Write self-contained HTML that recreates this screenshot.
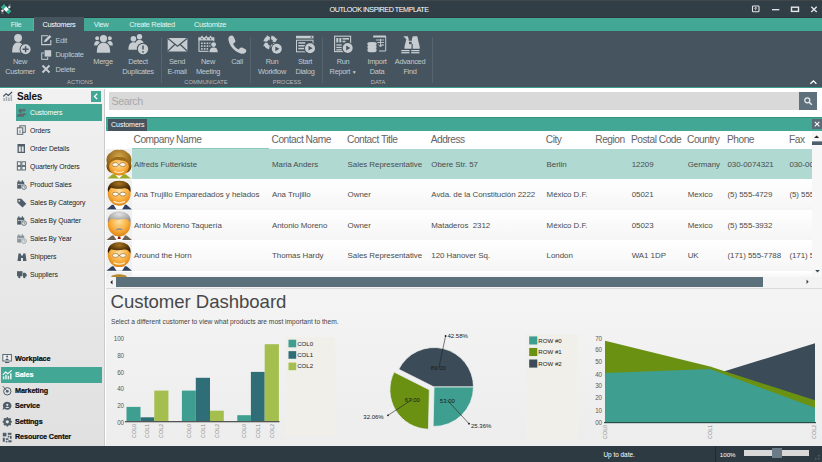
<!DOCTYPE html>
<html><head><meta charset="utf-8">
<style>
*{box-sizing:border-box;margin:0;padding:0}
html,body{width:822px;height:462px;overflow:hidden;background:#fff;font-family:"Liberation Sans",sans-serif;}
.abs{position:absolute}
svg{position:absolute;overflow:visible}
#title{left:0;top:0;width:822px;height:18px;background:#323e46;border-top:1px solid #40474a;border-bottom:1px solid #2b353c}
#title .t{left:329.500px;top:3px;color:#fff;font-size:7.2px;line-height:11px;letter-spacing:-0.45px;white-space:nowrap}
#tabs{left:0;top:18px;width:822px;height:13px;background:#42a895}
#tabs span{position:absolute;top:0;height:13px;line-height:14px;font-size:7.4px;letter-spacing:-0.3px;color:#e6f4f1;text-align:center}
#tabs .sel{background:#45545e;color:#fff;top:-1px;height:14px;line-height:16px}
#ribbon{left:0;top:31px;width:822px;height:57px;background:#45545e;border-bottom:1px solid #3b9d8c}
.rl{position:absolute;font-size:7.400px;line-height:10px;letter-spacing:-0.300px;color:#c2cacf;text-align:center;white-space:nowrap;transform:translateX(-50%)}
.rs{position:absolute;font-size:7.400px;line-height:10px;letter-spacing:-0.300px;color:#c2cacf;white-space:nowrap}
.rg{position:absolute;font-size:5.8px;line-height:8px;color:#b4bcc1;text-align:center;white-space:nowrap;transform:translateX(-50%);top:47px}
.sep{position:absolute;width:1px;top:6px;height:46px;background:#56646d}
#nav{left:0;top:89px;width:105px;height:357px;background:linear-gradient(#f1f1f1,#e0e0e0);border-right:1px solid #cbcbcb}
.ni{position:absolute;left:30px;font-size:6.9px;line-height:10px;letter-spacing:-0.1px;color:#222;white-space:nowrap}
.ng{position:absolute;left:15px;font-size:7.200px;line-height:10px;color:#0a0a0a;font-weight:bold;-webkit-text-stroke:0.200px;white-space:nowrap;letter-spacing:-0.1px}
#status{left:0;top:445.500px;width:822px;height:16.500px;background:#2d3a42}
.gh{position:absolute;top:133.800px;font-size:10.200px;line-height:12px;letter-spacing:-0.480px;color:#646464;white-space:nowrap}
.gd{position:absolute;font-size:7.950px;line-height:10px;color:#4c4c4c;white-space:nowrap;letter-spacing:-0.05px}
.row{position:absolute;left:132px;width:680px;height:30px;background:linear-gradient(#fff,#f5f5f5)}
.av{position:absolute;left:106px;width:26px;height:30px;background:#f0f0f0;overflow:hidden}
.cl{position:absolute;font-size:6.300px;line-height:7px;color:#5a5a5a;letter-spacing:-0.100px}
.xl{position:absolute;font-size:5.2px;line-height:6px;color:#888;transform:rotate(-90deg);transform-origin:0 0;white-space:nowrap;letter-spacing:0.2px}
.lg{position:absolute;font-size:6.100px;line-height:8px;color:#222;white-space:nowrap}
.pl{position:absolute;font-size:6px;line-height:8px;color:#1a1a1a;white-space:nowrap}
</style></head><body>
<div id="title" class="abs"><div class="t abs">OUTLOOK INSPIRED TEMPLATE</div></div>
<div id="tabs" class="abs">
<span style="left:0;width:34px;background:#44a996;border-right:1px solid #52b7a4;padding-right:1px">File</span>
<span class="sel" style="left:34px;width:50px">Customers</span>
<span style="left:84px;width:34px">View</span>
<span style="left:122px;width:60px">Create Related</span>
<span style="left:186px;width:48px">Customize</span>
</div>
<div id="ribbon" class="abs">
<div class="rl" style="left:20px;top:26px">New<br>Customer</div>
<div class="rs" style="left:55.500px;top:4.800px">Edit</div>
<div class="rs" style="left:55.500px;top:19px">Duplicate</div>
<div class="rs" style="left:55.500px;top:33.500px">Delete</div>
<div class="rl" style="left:103px;top:26px">Merge</div>
<div class="rl" style="left:138px;top:26px">Detect<br>Duplicates</div>
<div class="rg" style="left:80px">ACTIONS</div>
<div class="sep" style="left:161px"></div>
<div class="rl" style="left:177px;top:26px">Send<br>E-mail</div>
<div class="rl" style="left:208px;top:26px">New<br>Meeting</div>
<div class="rl" style="left:237px;top:26px">Call</div>
<div class="rg" style="left:206px">COMMUNICATE</div>
<div class="sep" style="left:250px"></div>
<div class="rl" style="left:272px;top:26px">Run<br>Workflow</div>
<div class="rl" style="left:305px;top:26px">Start<br>Dialog</div>
<div class="rg" style="left:287px">PROCESS</div>
<div class="sep" style="left:322px"></div>
<div class="rl" style="left:343px;top:26px">Run<br>Report <span style="font-size:5px">&#9660;</span></div>
<div class="rl" style="left:377px;top:26px">Import<br>Data</div>
<div class="rl" style="left:410px;top:26px">Advanced<br>Find</div>
<div class="rg" style="left:378px">DATA</div>
<div class="sep" style="left:432px"></div>
</div>

<!-- NAV -->
<div id="nav" class="abs">
<div class="abs" style="left:17px;top:1px;font-size:10px;font-weight:bold;line-height:13px;color:#111;letter-spacing:-0.2px">Sales</div>
<div class="abs" style="left:90.500px;top:2px;width:10.500px;height:10.500px;background:#42a895"></div>
<div class="abs" style="left:16px;top:15px;width:86px;height:17px;background:#42a895"></div>
<div class="ni" style="top:19px;color:#fff">Customers</div>
<div class="ni" style="top:37px">Orders</div>
<div class="ni" style="top:55px">Order Details</div>
<div class="ni" style="top:73px">Quarterly Orders</div>
<div class="ni" style="top:91px">Product Sales</div>
<div class="ni" style="top:109px">Sales By Category</div>
<div class="ni" style="top:127px">Sales By Quarter</div>
<div class="ni" style="top:145px">Sales By Year</div>
<div class="ni" style="top:163px">Shippers</div>
<div class="ni" style="top:181px">Suppliers</div>
<div class="abs" style="left:1px;top:278px;width:101px;height:16px;background:#42a895"></div>
<div class="ng" style="top:265px">Workplace</div>
<div class="ng" style="top:281px;color:#fff">Sales</div>
<div class="ng" style="top:297px">Marketing</div>
<div class="ng" style="top:312px">Service</div>
<div class="ng" style="top:328px">Settings</div>
<div class="ng" style="top:343px">Resource Center</div>
</div>

<!-- SEARCH -->
<div class="abs" style="left:109px;top:92px;width:690px;height:18px;background:#d9d9d9"></div>
<div class="abs" style="left:111.500px;top:95.400px;font-size:10.600px;line-height:12px;letter-spacing:-0.400px;color:#a8a8a8">Search</div>
<div class="abs" style="left:799px;top:92px;width:18px;height:18px;background:#5f707d"></div>

<!-- GRID -->
<div class="abs" style="left:106px;top:117px;width:716px;height:13.5px;background:#42a895;border-top:1px solid #37917f"></div>
<div class="abs" style="left:107.800px;top:119px;width:39.400px;height:11.500px;background:#44535d;color:#fff;font-size:7.100px;line-height:12px;text-align:center;padding-left:0.600px;letter-spacing:-0.1px">Customers</div>
<div class="abs" style="left:812px;top:119px;width:10px;height:10px;background:#5a6b77"></div>
<div class="gh" style="left:133.5px">Company Name</div>
<div class="gh" style="left:271.5px">Contact Name</div>
<div class="gh" style="left:347px">Contact Title</div>
<div class="gh" style="left:430.7px">Address</div>
<div class="gh" style="left:545.8px">City</div>
<div class="gh" style="left:595.3px">Region</div>
<div class="gh" style="left:631px">Postal Code</div>
<div class="gh" style="left:687px">Country</div>
<div class="gh" style="left:727px">Phone</div>
<div class="gh" style="left:789px">Fax</div>
<div class="abs" style="left:132px;top:148px;width:137px;height:1px;background:#8fcabf"></div>

<div class="row" style="top:149px;background:#b0d9d2"></div>
<div class="row" style="top:179.7px"></div>
<div class="row" style="top:210.3px"></div>
<div class="row" style="top:241px"></div>
<div class="row" style="top:271.5px;height:6px"></div>
<div class="av" style="top:149px"></div>
<div class="av" style="top:179.7px"></div>
<div class="av" style="top:210.3px"></div>
<div class="av" style="top:241px"></div>
<div class="av" style="top:271.5px;height:6px"></div>

<div class="abs" id="gdata" style="left:0;top:0;width:812px;height:277px;overflow:hidden">
<div class="gd" style="left:134px;top:159.5px">Alfreds Futterkiste</div>
<div class="gd" style="left:272px;top:159.5px">Maria Anders</div>
<div class="gd" style="left:347.6px;top:159.5px">Sales Representative</div>
<div class="gd" style="left:431.3px;top:159.5px">Obere Str. 57</div>
<div class="gd" style="left:546.6px;top:159.5px">Berlin</div>
<div class="gd" style="left:631.7px;top:159.5px">12209</div>
<div class="gd" style="left:687.7px;top:159.5px">Germany</div>
<div class="gd" style="left:727.5px;top:159.5px">030-0074321</div>
<div class="gd" style="left:789.4px;top:159.5px">030-0076545</div>

<div class="gd" style="left:134px;top:190.2px">Ana Trujillo Emparedados y helados</div>
<div class="gd" style="left:272px;top:190.2px">Ana Trujillo</div>
<div class="gd" style="left:347.6px;top:190.2px">Owner</div>
<div class="gd" style="left:431.3px;top:190.2px">Avda. de la Constitución 2222</div>
<div class="gd" style="left:546.6px;top:190.2px">México D.F.</div>
<div class="gd" style="left:631.7px;top:190.2px">05021</div>
<div class="gd" style="left:687.7px;top:190.2px">Mexico</div>
<div class="gd" style="left:727.5px;top:190.2px">(5) 555-4729</div>
<div class="gd" style="left:789.4px;top:190.2px">(5) 555-3745</div>

<div class="gd" style="left:134px;top:220.8px">Antonio Moreno Taquería</div>
<div class="gd" style="left:272px;top:220.8px">Antonio Moreno</div>
<div class="gd" style="left:347.6px;top:220.8px">Owner</div>
<div class="gd" style="left:431.3px;top:220.8px">Mataderos&nbsp; 2312</div>
<div class="gd" style="left:546.6px;top:220.8px">México D.F.</div>
<div class="gd" style="left:631.7px;top:220.8px">05023</div>
<div class="gd" style="left:687.7px;top:220.8px">Mexico</div>
<div class="gd" style="left:727.5px;top:220.8px">(5) 555-3932</div>

<div class="gd" style="left:134px;top:251.4px">Around the Horn</div>
<div class="gd" style="left:272px;top:251.4px">Thomas Hardy</div>
<div class="gd" style="left:347.6px;top:251.4px">Sales Representative</div>
<div class="gd" style="left:431.3px;top:251.4px">120 Hanover Sq.</div>
<div class="gd" style="left:546.6px;top:251.4px">London</div>
<div class="gd" style="left:631.7px;top:251.4px">WA1 1DP</div>
<div class="gd" style="left:687.7px;top:251.4px">UK</div>
<div class="gd" style="left:727.5px;top:251.4px">(171) 555-7788</div>
<div class="gd" style="left:789.4px;top:251.4px">(171) 555-6750</div>
</div>
<!-- scrollbars -->
<div class="abs" style="left:106px;top:277px;width:716px;height:10.500px;background:#f3f3f3"></div>
<div class="abs" style="left:812px;top:131px;width:10px;height:146px;background:#f7f7f7"></div>

<div class="abs" style="left:116px;top:277px;width:647px;height:9.800px;background:#5c707c"></div>
<div class="abs" style="left:812px;top:141px;width:10px;height:4.300px;background:linear-gradient(#8a98a2 0,#8a98a2 25%,#4e5f6b 25%)"></div>

<!-- DASHBOARD -->
<div class="abs" style="left:106px;top:287.600px;width:716px;height:158.400px;background:linear-gradient(#f4f4f4,#ededed);border-top:1px solid #dadada"></div>
<div class="abs" style="left:110.5px;top:291px;font-size:18.600px;line-height:22px;color:#484848;letter-spacing:-0.05px;white-space:nowrap">Customer Dashboard</div>
<div class="abs" style="left:111px;top:318px;font-size:6.65px;line-height:8px;color:#444;white-space:nowrap">Select a different customer to view what products are most important to them.</div>

<!-- CHARTS -->
<svg width="822" height="462" style="left:0;top:0">
<rect x="285.8" y="337" width="49.5" height="99.5" fill="#f1efea"/>
<rect x="526.2" y="334" width="51.5" height="105.5" fill="#f1efea"/>
<rect x="126.5" y="406.9" width="14.0" height="14.6" fill="#3e9e8f"/>
<rect x="140.5" y="417.3" width="13.8" height="4.2" fill="#2f6e77"/>
<rect x="154.3" y="390.6" width="14.1" height="30.9" fill="#a4bf4d"/>
<rect x="181.9" y="390.6" width="13.9" height="30.9" fill="#3e9e8f"/>
<rect x="195.8" y="377.8" width="14.2" height="43.7" fill="#2f6e77"/>
<rect x="210" y="410.7" width="13.8" height="10.8" fill="#a4bf4d"/>
<rect x="237.3" y="415.2" width="13.6" height="6.3" fill="#3e9e8f"/>
<rect x="250.9" y="371.9" width="13.8" height="49.6" fill="#2f6e77"/>
<rect x="264.7" y="344.2" width="14.2" height="77.3" fill="#a4bf4d"/>
<rect x="125" y="421" width="154.5" height="1.3" fill="#555"/>
<rect x="288.5" y="339.70" width="7.7" height="7.6" fill="#3e9e8f"/>
<rect x="288.5" y="351.15" width="7.7" height="7.6" fill="#2f6e77"/>
<rect x="288.5" y="362.60" width="7.7" height="7.6" fill="#a4bf4d"/>
<rect x="529.2" y="336.40" width="8.1" height="8.1" fill="#3e9e8f"/>
<rect x="529.2" y="347.95" width="8.1" height="8.1" fill="#6b9113"/>
<rect x="529.2" y="359.50" width="8.1" height="8.1" fill="#3b4b57"/>
<path d="M434.00,387.00 L473.50,387.00 A39.5,39.5 0 0 0 398.71,369.25 Z" fill="#3b4b57" stroke="#eef1f0" stroke-width="0.8"/>
<path d="M434.00,387.00 L433.10,426.49 A39.5,39.5 0 0 0 473.50,387.00 Z" fill="#3e9e8f" stroke="#eef1f0" stroke-width="0.8"/>
<path d="M429.37,389.78 L394.08,372.03 A39.5,39.5 0 0 0 428.48,429.27 Z" fill="#6b9113" stroke="#eef1f0" stroke-width="0.8"/>
<g stroke="#222" stroke-width="0.6" fill="none"><path d="M438.8,368 L445.6,336"/><path d="M412.5,399.3 L388,415.3"/><path d="M447.5,400.4 L469,423.7"/></g>
<g fill="#111"><circle cx="445.6" cy="336" r="0.9"/><circle cx="388" cy="415.3" r="0.9"/><circle cx="469" cy="423.7" r="0.9"/></g>
<path d="M605,422.5 L605,386.2 L710,375.673 L815,343.366 L815,422.5 Z" fill="#3b4b57"/>
<path d="M605,422.5 L605,340.825 L710,366.477 L815,400.35699999999997 L815,422.5 Z" fill="#6b9113"/>
<path d="M605,422.5 L605,372.89 L710,369.01800000000003 L815,407.738 L815,422.5 Z" fill="#3e9e8f"/>
<rect x="604" y="422" width="212" height="1.2" fill="#2a4a48"/>
</svg>
<div class="cl" style="left:104px;width:20px;text-align:right;top:334.7px">100</div>
<div class="cl" style="left:104px;width:20px;text-align:right;top:351.7px">80</div>
<div class="cl" style="left:104px;width:20px;text-align:right;top:368.7px">60</div>
<div class="cl" style="left:104px;width:20px;text-align:right;top:385.3px">40</div>
<div class="cl" style="left:104px;width:20px;text-align:right;top:401.9px">20</div>
<div class="cl" style="left:104px;width:20px;text-align:right;top:418.6px">00</div>
<div class="cl" style="left:582px;width:20px;text-align:right;top:334.5px">70</div>
<div class="cl" style="left:582px;width:20px;text-align:right;top:346.2px">60</div>
<div class="cl" style="left:582px;width:20px;text-align:right;top:358.3px">50</div>
<div class="cl" style="left:582px;width:20px;text-align:right;top:370.5px">40</div>
<div class="cl" style="left:582px;width:20px;text-align:right;top:382.2px">30</div>
<div class="cl" style="left:582px;width:20px;text-align:right;top:394.3px">20</div>
<div class="cl" style="left:582px;width:20px;text-align:right;top:406.5px">10</div>
<div class="cl" style="left:582px;width:20px;text-align:right;top:419.1px">00</div>
<div class="xl" style="left:130.5px;top:437.5px">COL0</div>
<div class="xl" style="left:144.4px;top:437.5px">COL1</div>
<div class="xl" style="left:158.4px;top:437.5px">COL2</div>
<div class="xl" style="left:185.9px;top:437.5px">COL0</div>
<div class="xl" style="left:199.9px;top:437.5px">COL1</div>
<div class="xl" style="left:213.9px;top:437.5px">COL2</div>
<div class="xl" style="left:241.1px;top:437.5px">COL0</div>
<div class="xl" style="left:254.8px;top:437.5px">COL1</div>
<div class="xl" style="left:268.8px;top:437.5px">COL2</div>
<div class="xl" style="left:602.0px;top:438.5px">COL0</div>
<div class="xl" style="left:707.0px;top:438.5px">COL1</div>
<div class="xl" style="left:811.0px;top:438.5px">COL2</div>
<div class="lg" style="left:297.2px;top:339.5px">COL0</div>
<div class="lg" style="left:297.2px;top:350.9px">COL1</div>
<div class="lg" style="left:297.2px;top:362.4px">COL2</div>
<div class="lg" style="left:538.3px;top:336.5px">ROW #0</div>
<div class="lg" style="left:538.3px;top:348.1px">ROW #1</div>
<div class="lg" style="left:538.3px;top:359.6px">ROW #2</div>
<div class="pl" style="left:447.500px;top:332px">42.58%</div>
<div class="pl" style="left:363.300px;top:412.500px">32.06%</div>
<div class="pl" style="left:471px;top:421.500px">25.36%</div>
<div class="pl" style="left:430.800px;top:364.300px;font-size:6px">89.00</div>
<div class="pl" style="left:404.800px;top:395.600px;font-size:6px">67.00</div>
<div class="pl" style="left:439.800px;top:396.600px;font-size:6px">53.00</div>
<div id="status" class="abs">
<div class="abs" style="left:603.5px;top:5.300px;font-size:6.400px;line-height:8px;color:#fff;white-space:nowrap">Up to date.</div>
<div class="abs" style="left:715px;top:0;width:1px;height:16px;background:#1f2a30"></div>
<div class="abs" style="left:719.8px;top:5.300px;font-size:6.200px;line-height:8px;color:#fff;white-space:nowrap">100%</div>
<div class="abs" style="left:744px;top:4.5px;width:65px;height:6px;background:#d8d8d8"></div>
<div class="abs" style="left:771.500px;top:2.800px;width:10px;height:10.100px;background:#6a7b87"></div>
</div>
<!-- ICONS2 -->
<svg width="822" height="462" style="left:0;top:0">
<defs><radialGradient id="face" cx="50%" cy="40%" r="60%"><stop offset="0" stop-color="#ffe0a0"/><stop offset="0.6" stop-color="#fbb040"/><stop offset="1" stop-color="#dd8412"/></radialGradient><radialGradient id="hb" cx="50%" cy="30%" r="70%"><stop offset="0" stop-color="#d3a548"/><stop offset="1" stop-color="#7a4d08"/></radialGradient><radialGradient id="hd" cx="50%" cy="25%" r="70%"><stop offset="0" stop-color="#a87420"/><stop offset="0.6" stop-color="#5a380a"/><stop offset="1" stop-color="#2e1a04"/></radialGradient><radialGradient id="hg" cx="50%" cy="25%" r="70%"><stop offset="0" stop-color="#e4e4e4"/><stop offset="1" stop-color="#8d8d8d"/></radialGradient></defs>
<g><path d="M107.500,178.60000000000002 L112.500,174.3 L125.500,174.3 L131,178.60000000000002Z" fill="#9aaa28"/><path d="M114.500,174.3 L119,178.60000000000002 L123.500,174.3Z" fill="#fff"/><path d="M119,149.9 C115,149.10000000000002 112,150.8 110.500,152.8 C107,154.3 105.800,159.3 107,163.3 C105.500,167.3 107.500,171.8 111.500,172.8 L126.500,172.8 C130.500,171.8 132.500,167.3 131,163.3 C132.200,159.3 131,154.3 127.500,152.8 C126,150.8 123,149.10000000000002 119,149.9Z" fill="url(#hb)"/><ellipse cx="119" cy="166.60000000000002" rx="10" ry="8.900" fill="url(#face)"/><path d="M108.800,164.8 C109.500,158.3 116,155.8 121,157.3 C125,157.3 128.500,159.8 129.200,164.8 C127,161.3 124,160.3 121,160.5 C117,158.8 111.500,160.3 108.800,164.8Z" fill="#9a6a18"/><ellipse cx="115.3" cy="164.60000000000002" rx="3.100" ry="1.900" fill="#fff8e8" stroke="#6a4a20" stroke-width="0.500"/><ellipse cx="122.7" cy="164.60000000000002" rx="3.100" ry="1.900" fill="#fff8e8" stroke="#6a4a20" stroke-width="0.500"/><path d="M118.4,164.60000000000002 h1.200" stroke="#6a4a20" stroke-width="0.500"/><path d="M114,171.3 Q119,174.10000000000002 124,171.3" stroke="#fff2d0" stroke-width="1.300" fill="none" opacity="0.850"/></g>
<g><path d="M106.500,209.4 L112,204.8 L126.500,204.8 L132,209.4Z" fill="#2f4060"/><path d="M113.500,204.8 L116.500,209.4 L122,209.4 L125,204.8Z" fill="#fff"/><ellipse cx="119.2" cy="193.4" rx="11.400" ry="12.300" fill="url(#face)"/><path d="M108,192.3 C106.500,183.8 113,180.8 119.2,180.8 C125.500,180.8 132,183.8 130.400,192.3 C129,188.3 126,187.8 123,188.4 C119,189.3 114,188.8 111.500,187.8 C110,188.8 109,189.8 108,192.3Z" fill="url(#hd)"/><ellipse cx="115.5" cy="194.10000000000002" rx="3.100" ry="1.900" fill="#fff8e8" stroke="#6a4a20" stroke-width="0.500"/><ellipse cx="122.9" cy="194.10000000000002" rx="3.100" ry="1.900" fill="#fff8e8" stroke="#6a4a20" stroke-width="0.500"/><path d="M118.60000000000001,194.10000000000002 h1.200" stroke="#6a4a20" stroke-width="0.500"/><path d="M113.500,201.3 Q119.200,204.3 125,201.3" stroke="#fff2d0" stroke-width="1.300" fill="none" opacity="0.850"/></g>
<g><path d="M106.500,240.1 L112,235.5 L126.500,235.5 L132,240.1Z" fill="#6d6256"/><path d="M113.500,235.5 L116.500,240.1 L122,240.1 L125,235.5Z" fill="#fff"/><ellipse cx="119.2" cy="224.1" rx="11.400" ry="12.300" fill="url(#face)"/><path d="M108,223.0 C106.500,214.5 113,211.5 119.2,211.5 C125.500,211.5 132,214.5 130.400,223.0 C129,219.0 126,218.5 123,219.1 C119,220.0 114,219.5 111.500,218.5 C110,219.5 109,220.5 108,223.0Z" fill="url(#hg)"/><path d="M116.200,229.8 Q119.200,228.1 122.200,229.8" stroke="#8b93a0" stroke-width="1.400" fill="none"/><path d="M118.200,236.5 h2 l0.600,2.500 h-3.200z" fill="#8a1d10"/></g>
<g><path d="M106.500,270.8 L112,266.2 L126.500,266.2 L132,270.8Z" fill="#2f4060"/><path d="M113.500,266.2 L116.500,270.8 L122,270.8 L125,266.2Z" fill="#fff"/><ellipse cx="119.2" cy="254.79999999999998" rx="11.400" ry="12.300" fill="url(#face)"/><path d="M108,253.7 C106.500,245.2 113,242.2 119.2,242.2 C125.500,242.2 132,245.2 130.400,253.7 C129,249.7 126,249.2 123,249.79999999999998 C119,250.7 114,250.2 111.500,249.2 C110,250.2 109,251.2 108,253.7Z" fill="url(#hd)"/><ellipse cx="115.5" cy="255.5" rx="3.100" ry="1.900" fill="#fff8e8" stroke="#6a4a20" stroke-width="0.500"/><ellipse cx="122.9" cy="255.5" rx="3.100" ry="1.900" fill="#fff8e8" stroke="#6a4a20" stroke-width="0.500"/><path d="M118.60000000000001,255.5 h1.200" stroke="#6a4a20" stroke-width="0.500"/><path d="M113.500,262.7 Q119.200,265.7 125,262.7" stroke="#fff2d0" stroke-width="1.300" fill="none" opacity="0.850"/></g>
<path d="M111,277 C112,273.300 126,273.300 127,277Z" fill="#b88a30"/>
<rect x="106" y="179.2" width="26" height="0.800" fill="#fbfbfb"/><rect x="106" y="209.8" width="26" height="0.800" fill="#fbfbfb"/><rect x="106" y="240.4" width="26" height="0.800" fill="#fbfbfb"/><rect x="106" y="271" width="26" height="0.800" fill="#fbfbfb"/>
<g><rect x="3.3" y="98" width="1.600" height="3" fill="#a8b0b5"/><rect x="5.699999999999999" y="96.5" width="1.600" height="4.500" fill="#a8b0b5"/><rect x="8.1" y="97.5" width="1.600" height="3.500" fill="#a8b0b5"/><rect x="10.5" y="95" width="1.600" height="6" fill="#a8b0b5"/><path d="M3.3,96.5 l2.800,-2.800 2.200,1.800 3.800,-3.500" fill="none" stroke="#3f4c55" stroke-width="1.100"/></g>
<circle cx="24" cy="110" r="1.500" fill="#5d6873"/><path d="M21.500,115 q2.500,-4 5,0z" fill="#5d6873"/><circle cx="20.500" cy="110.800" r="2.100" fill="#5d6873"/><path d="M16.800,116.800 c0,-4.500 7.400,-4.500 7.400,0z" fill="#5d6873"/>
<rect x="19.800" y="125.800" width="5.500" height="6.500" fill="#e9e9e9" stroke="#4f5e69" stroke-width="0.900"/><rect x="17.300" y="127.800" width="5.500" height="6.500" fill="#e9e9e9" stroke="#4f5e69" stroke-width="0.900"/><path d="M20,130 v3" stroke="#4f5e69" stroke-width="0.700"/>
<rect x="17.500" y="144" width="7.500" height="9" fill="#4f5e69"/><rect x="18.800" y="146.500" width="2" height="5.300" fill="#dfe3e5"/><rect x="21.700" y="146.500" width="2" height="5.300" fill="#dfe3e5"/>
<rect x="17.3" y="161.8" width="3.600" height="3.600" fill="none" stroke="#4f5e69" stroke-width="0.900"/><rect x="21.9" y="161.8" width="3.600" height="3.600" fill="none" stroke="#4f5e69" stroke-width="0.900"/><rect x="17.3" y="166.4" width="3.600" height="3.600" fill="none" stroke="#4f5e69" stroke-width="0.900"/><rect x="21.9" y="166.4" width="3.600" height="3.600" fill="none" stroke="#4f5e69" stroke-width="0.900"/>
<rect x="17.200" y="181.60000000000002" width="7" height="7" fill="#4f5e69"/><rect x="18.300" y="180.3" width="1.200" height="2.200" fill="#4f5e69"/><rect x="21.800" y="180.3" width="1.200" height="2.200" fill="#4f5e69"/><rect x="18.200" y="183.9" width="1.300" height="1.200" fill="#e6e6e6"/><rect x="20.400" y="183.9" width="1.300" height="1.200" fill="#e6e6e6"/><circle cx="24" cy="187.10000000000002" r="3" fill="#e8e8e8"/><circle cx="24" cy="187.10000000000002" r="2.300" fill="none" stroke="#4f5e69" stroke-width="0.800"/><path d="M24,185.9 v1.300 h1" stroke="#4f5e69" stroke-width="0.600" fill="none"/>
<path d="M17.300,198.800 h4 l5,5 -3.800,3.800 -5.200,-5z" fill="#4f5e69"/><circle cx="19.300" cy="200.800" r="0.900" fill="#e6e6e6"/>
<rect x="17.200" y="217.60000000000002" width="7" height="7" fill="#4f5e69"/><rect x="18.300" y="216.3" width="1.200" height="2.200" fill="#4f5e69"/><rect x="21.800" y="216.3" width="1.200" height="2.200" fill="#4f5e69"/><rect x="18.200" y="219.9" width="1.300" height="1.200" fill="#e6e6e6"/><rect x="20.400" y="219.9" width="1.300" height="1.200" fill="#e6e6e6"/><circle cx="24" cy="223.10000000000002" r="3" fill="#e8e8e8"/><circle cx="24" cy="223.10000000000002" r="2.300" fill="none" stroke="#4f5e69" stroke-width="0.800"/><path d="M24,221.9 v1.300 h1" stroke="#4f5e69" stroke-width="0.600" fill="none"/>
<rect x="17.200" y="235.60000000000002" width="7" height="7" fill="#8a959c"/><rect x="18.300" y="234.3" width="1.200" height="2.200" fill="#8a959c"/><rect x="21.800" y="234.3" width="1.200" height="2.200" fill="#8a959c"/><rect x="18.200" y="237.9" width="1.300" height="1.200" fill="#e6e6e6"/><rect x="20.400" y="237.9" width="1.300" height="1.200" fill="#e6e6e6"/><circle cx="24" cy="241.10000000000002" r="3" fill="#e8e8e8"/><circle cx="24" cy="241.10000000000002" r="2.300" fill="none" stroke="#8a959c" stroke-width="0.800"/><path d="M24,239.9 v1.300 h1" stroke="#8a959c" stroke-width="0.600" fill="none"/>
<path d="M17.500,261 l1,-7.500 h2.200 l0.500,2 h1.600 l0.500,-2 h2.200 l1,7.500 h-3.500 v-3 h-2 v3z" fill="#4f5e69"/>
<rect x="17" y="271.200" width="5.500" height="5" fill="#4f5e69"/><path d="M23,272.800 h2.200 l1.500,1.800 v1.800 h-3.700z" fill="#4f5e69"/><circle cx="19.300" cy="277" r="1.200" fill="#4f5e69"/><circle cx="24.300" cy="277" r="1.200" fill="#4f5e69"/>
<rect x="2.800" y="354.500" width="8.600" height="6.500" fill="#eee" stroke="#4f5e69" stroke-width="0.900"/><circle cx="7.100" cy="356.600" r="1" fill="#4f5e69"/><path d="M5.300,360 q1.800,-2.800 3.600,0z" fill="#4f5e69"/><rect x="5" y="362" width="4.200" height="1" fill="#4f5e69"/>
<g><rect x="2.8" y="376.3" width="1.600" height="3" fill="#d9eeea"/><rect x="5.199999999999999" y="374.8" width="1.600" height="4.500" fill="#d9eeea"/><rect x="7.6" y="375.8" width="1.600" height="3.500" fill="#d9eeea"/><rect x="10.0" y="373.3" width="1.600" height="6" fill="#d9eeea"/><path d="M2.8,374.8 l2.800,-2.800 2.200,1.800 3.800,-3.500" fill="none" stroke="#fff" stroke-width="1.100"/></g>
<circle cx="7.300" cy="391.300" r="3.700" fill="none" stroke="#4f5e69" stroke-width="1"/><circle cx="7.300" cy="391.300" r="1.400" fill="#4f5e69"/><path d="M2.800,386.200 l3.800,4.300" stroke="#4f5e69" stroke-width="1"/>
<path d="M7.300,401.800 a4.200,4 0 1 1 -2.800,7 l-2,1.200 0.800,-2.400 a4.200,4 0 0 1 4,-5.800z" fill="#4f5e69"/><circle cx="7.300" cy="404.800" r="1.100" fill="#e4e4e4"/><path d="M5.300,408 q2,-2.600 4,0z" fill="#e4e4e4"/>
<polygon points="11.90,421.80 10.44,423.10 10.55,425.05 8.60,424.94 7.30,426.40 6.00,424.94 4.05,425.05 4.16,423.10 2.70,421.80 4.16,420.50 4.05,418.55 6.00,418.66 7.30,417.20 8.60,418.66 10.55,418.55 10.44,420.50" fill="#4f5e69" stroke="#4f5e69" stroke-width="0.800" stroke-linejoin="round"/><circle cx="7.300" cy="421.800" r="1.600" fill="#e4e4e4"/>
<rect x="2.8" y="432.8" width="3.6" height="3.6" fill="#4f5e69"/><rect x="7.8" y="432.8" width="3.6" height="2" fill="#4f5e69"/><rect x="7.8" y="435.8" width="1.6" height="1.6" fill="#4f5e69"/><rect x="10.0" y="435.8" width="1.6" height="3" fill="#4f5e69"/><rect x="2.8" y="437.8" width="2" height="4" fill="#4f5e69"/><rect x="5.8" y="438.3" width="2.6" height="1.6" fill="#4f5e69"/><rect x="5.8" y="440.8" width="1.6" height="1.6" fill="#4f5e69"/><rect x="8.3" y="440.3" width="3.3" height="2" fill="#4f5e69"/>
</svg>
<!-- /ICONS2 -->
<!-- ICONS -->
<svg width="822" height="462" style="left:0;top:0">
<g><rect x="1" y="4" width="10.200" height="10.200" fill="#2b363d"/><rect x="8.400" y="4.300" width="2.600" height="2.600" fill="#55636b"/><rect x="1.200" y="11.400" width="2.600" height="2.600" fill="#55636b"/><path d="M4,4 l3.200,3.200 -3.200,3.200 -3,-3 v-0.400z" fill="#2fb094"/><path d="M8.400,8.200 l2.800,2.800 v0.400 l-2.800,2.800 -3.200,-3z" fill="#2fb094"/><path d="M6.200,6.600 l2.600,2.600 -2.600,2.600 -2.600,-2.600z" fill="#fff"/><path d="M2.400,9.200 l1.500,1.500 -1.500,1.500 -1.400,-1.400 v-0.200z" fill="#f2e8ea"/><path d="M9.300,5.800 l1.400,1.400 -1.400,1.400 -1.400,-1.400z" fill="#e9eeee"/></g>
<g fill="none" stroke="#e4e8ea" stroke-width="1.1"><rect x="752.500" y="6" width="6.500" height="5.800" rx="0.800"/><path d="M755.700,7.500 v2.800 M754.300,8.600 l1.400,-1.300 1.400,1.300" stroke-width="0.800"/><path d="M772,9.700 h7.300" stroke-width="1.300"/><rect x="791.500" y="7.200" width="7" height="4.200" stroke-width="1.400"/><path d="M811.300,6.800 l5.400,5.200 M816.700,6.800 l-5.400,5.200" stroke-width="1.300"/></g>
<path d="M810.400,83.800 l3,-3 3,3" fill="none" stroke="#fff" stroke-width="1.300"/>
<circle cx="18.1" cy="38" r="3.9" fill="#c6ccd0"/><path d="M12.100000000000001,52.5 C12.100000000000001,45.0 14.500000000000002,42.5 18.1,42.5 C21.700000000000003,42.5 24.1,45.0 24.1,52.5 Z" fill="#c6ccd0"/><circle cx="25.600" cy="49.200" r="6" fill="#45545e"/><circle cx="25.600" cy="49.200" r="5" fill="#c6ccd0"/><path d="M25.600,46.200 v6 M22.600,49.200 h6" stroke="#45545e" stroke-width="1.500"/>
<path d="M48,35.700 H41.700 V44.600 H50.800 V40" fill="none" stroke="#c6ccd0" stroke-width="1.100"/><path d="M44,42.300 L44.600,40 L49.600,35 L51.400,36.800 L46.300,41.800 Z" fill="#c6ccd0"/>
<rect x="41.700" y="53" width="6" height="6.300" fill="none" stroke="#c6ccd0" stroke-width="1"/><rect x="44" y="49.700" width="7.600" height="7.300" fill="#45545e"/><rect x="44.600" y="50.200" width="6.600" height="6.400" fill="#c6ccd0"/>
<path d="M42.500,65.500 l7,7 M49.500,65.500 l-7,7" stroke="#c6ccd0" stroke-width="1.900" fill="none"/>
<circle cx="97.2" cy="38.3" r="2" fill="#c6ccd0"/><path d="M94.2,45.4 C94.2,42.025 95.4,40.9 97.2,40.9 C99.0,40.9 100.2,42.025 100.2,45.4 Z" fill="#c6ccd0"/><circle cx="109.8" cy="38.3" r="2" fill="#c6ccd0"/><path d="M106.8,45.4 C106.8,42.025 108.0,40.9 109.8,40.9 C111.6,40.9 112.8,42.025 112.8,45.4 Z" fill="#c6ccd0"/><circle cx="103.500" cy="38.600" r="4.600" fill="#45545e"/><path d="M96,53 C96,44 99,42 103.500,42 C108,42 111,44 111,53Z" fill="#45545e"/><circle cx="103.5" cy="38.6" r="3.6" fill="#c6ccd0"/><path d="M96.8,52.800000000000004 C96.8,45.300000000000004 99.48,42.800000000000004 103.5,42.800000000000004 C107.52,42.800000000000004 110.2,45.300000000000004 110.2,52.800000000000004 Z" fill="#c6ccd0"/>
<circle cx="139.5" cy="36.7" r="2.7" fill="#c6ccd0"/><path d="M135.0,46.00000000000001 C135.0,41.50000000000001 136.8,40.00000000000001 139.5,40.00000000000001 C142.2,40.00000000000001 144.0,41.50000000000001 144.0,46.00000000000001 Z" fill="#c6ccd0"/><circle cx="133.400" cy="38.800" r="3.600" fill="#45545e"/><circle cx="133.4" cy="38.8" r="2.8" fill="#c6ccd0"/><path d="M128.4,49.699999999999996 C128.4,44.074999999999996 130.4,42.199999999999996 133.4,42.199999999999996 C136.4,42.199999999999996 138.4,44.074999999999996 138.4,49.699999999999996 Z" fill="#c6ccd0"/><circle cx="143" cy="49" r="6.200" fill="#45545e"/><circle cx="143" cy="49" r="5.200" fill="#c6ccd0"/><path d="M143,45.500 v4" stroke="#45545e" stroke-width="1.500"/><circle cx="143" cy="51.800" r="0.900" fill="#45545e"/>
<rect x="167.700" y="38" width="19.700" height="13.500" fill="#c6ccd0"/><path d="M167.700,38.300 L177.500,46.200 L187.400,38.300 M167.700,51.300 L175,44.300 M187.400,51.300 L180,44.300" fill="none" stroke="#45545e" stroke-width="1.200"/>
<rect x="199" y="38" width="14.700" height="13.300" fill="none" stroke="#c6ccd0" stroke-width="1.100"/><rect x="198.500" y="37.500" width="15.700" height="3" fill="#c6ccd0"/><rect x="201.2" y="35.800" width="1.600" height="3" fill="#c6ccd0"/><circle cx="202" cy="38.800" r="0.700" fill="#45545e"/><rect x="205.5" y="35.800" width="1.600" height="3" fill="#c6ccd0"/><circle cx="206.3" cy="38.800" r="0.700" fill="#45545e"/><rect x="209.79999999999998" y="35.800" width="1.600" height="3" fill="#c6ccd0"/><circle cx="210.6" cy="38.800" r="0.700" fill="#45545e"/><rect x="201" y="42.5" width="1.700" height="1.600" fill="#c6ccd0"/><rect x="203.8" y="42.5" width="1.700" height="1.600" fill="#c6ccd0"/><rect x="206.6" y="42.5" width="1.700" height="1.600" fill="#c6ccd0"/><rect x="209.4" y="42.5" width="1.700" height="1.600" fill="#c6ccd0"/><rect x="201" y="45.3" width="1.700" height="1.600" fill="#c6ccd0"/><rect x="203.8" y="45.3" width="1.700" height="1.600" fill="#c6ccd0"/><rect x="206.6" y="45.3" width="1.700" height="1.600" fill="#c6ccd0"/><rect x="209.4" y="45.3" width="1.700" height="1.600" fill="#c6ccd0"/><rect x="201" y="48.1" width="1.700" height="1.600" fill="#c6ccd0"/><rect x="203.8" y="48.1" width="1.700" height="1.600" fill="#c6ccd0"/><rect x="206.6" y="48.1" width="1.700" height="1.600" fill="#c6ccd0"/><rect x="209.4" y="48.1" width="1.700" height="1.600" fill="#c6ccd0"/><circle cx="213.600" cy="44.600" r="3.400" fill="#45545e"/><path d="M208.500,53 V48 Q213.600,44 218.800,48 V53Z" fill="#45545e"/><circle cx="213.6" cy="44.6" r="2.4" fill="#c6ccd0"/><path d="M209.5,52.2 C209.5,48.75 211.14,47.6 213.6,47.6 C216.06,47.6 217.7,48.75 217.7,52.2 Z" fill="#c6ccd0"/>
<path d="M229.500,36.200 C231,35.200 232.800,35.400 233.500,36.600 L235.300,40.600 C235.600,41.600 235.200,42.400 234.300,42.900 L233,43.700 C234.200,46.300 236.200,48.300 238.700,49.500 L239.700,48.200 C240.300,47.400 241.200,47.200 242.100,47.600 L245.500,49.300 C246.500,50 246.600,51.300 245.700,52.400 C244.300,53.800 242.400,54 240.500,53.500 C234.500,51.700 229.800,46.600 228.600,40.600 C228.200,38.800 228.400,37.200 229.500,36.200Z" fill="#c6ccd0"/>
<path d="M277.29,43.63 A7.1,7.1 0 0 1 273.63,48.67 L274.20,49.73 L270.48,47.50 L271.19,44.08 L271.76,45.14 A3.1,3.1 0 0 0 273.35,42.94Z" fill="#c6ccd0"/><path d="M269.07,49.39 A7.1,7.1 0 0 1 264.03,45.73 L262.97,46.30 L265.20,42.58 L268.62,43.29 L267.56,43.86 A3.1,3.1 0 0 0 269.76,45.45Z" fill="#c6ccd0"/><path d="M263.31,41.17 A7.1,7.1 0 0 1 266.97,36.13 L266.40,35.07 L270.12,37.30 L269.41,40.72 L268.84,39.66 A3.1,3.1 0 0 0 267.25,41.86Z" fill="#c6ccd0"/><path d="M271.53,35.41 A7.1,7.1 0 0 1 276.57,39.07 L277.63,38.50 L275.40,42.22 L271.98,41.51 L273.04,40.94 A3.1,3.1 0 0 0 270.84,39.35Z" fill="#c6ccd0"/><circle cx="276.8" cy="48.8" r="6" fill="#45545e"/><circle cx="276.8" cy="48.8" r="5" fill="#c6ccd0"/><path d="M275.3,46.4 L279.40000000000003,48.8 L275.3,51.199999999999996 Z" fill="#45545e"/>
<rect x="296" y="35.800" width="17.500" height="2.600" fill="#c6ccd0"/><rect x="296.500" y="40.200" width="16.500" height="11.600" fill="none" stroke="#c6ccd0" stroke-width="1"/><rect x="298.300" y="42.2" width="7" height="1.500" fill="#c6ccd0"/><rect x="298.300" y="45" width="7" height="1.500" fill="#c6ccd0"/><rect x="298.300" y="47.8" width="7" height="1.500" fill="#c6ccd0"/><rect x="310.600" y="36.500" width="1.500" height="1.200" fill="#45545e"/><circle cx="310" cy="48.2" r="6" fill="#45545e"/><circle cx="310" cy="48.2" r="5" fill="#c6ccd0"/><path d="M308.5,45.800000000000004 L312.6,48.2 L308.5,50.6 Z" fill="#45545e"/>
<rect x="334.600" y="36.200" width="16" height="15.400" fill="none" stroke="#c6ccd0" stroke-width="1.100"/><rect x="336.300" y="38" width="2" height="4.500" fill="#c6ccd0"/><rect x="339.300" y="38" width="2" height="4.500" fill="#c6ccd0"/><rect x="342.500" y="38" width="6.500" height="1.600" fill="#c6ccd0"/><rect x="342.500" y="40.700" width="3" height="1.600" fill="#c6ccd0"/><rect x="336.300" y="44.3" width="5.500" height="1.300" fill="#c6ccd0"/><rect x="336.300" y="46.8" width="5.500" height="1.300" fill="#c6ccd0"/><rect x="336.300" y="49.2" width="5.500" height="1.300" fill="#c6ccd0"/><circle cx="347.7" cy="48" r="6" fill="#45545e"/><circle cx="347.7" cy="48" r="5" fill="#c6ccd0"/><path d="M346.2,45.6 L350.3,48 L346.2,50.4 Z" fill="#45545e"/>
<path d="M373.500,36.200 H385.700 V51 H379" fill="none" stroke="#c6ccd0" stroke-width="1"/><rect x="373.200" y="35.700" width="12.700" height="1.800" fill="#c6ccd0"/><path d="M376,40 H384 M376,42.500 H384 M381,45 H384" stroke="#c6ccd0" stroke-width="0.900"/><path d="M380.500,39 V46 M378.500,44.500 L380.500,47 L382.500,44.500" fill="none" stroke="#c6ccd0" stroke-width="0.900"/><rect x="366.800" y="41.500" width="10.400" height="12" fill="#45545e"/><path d="M367.500,43.3 a4.500,1.300 0 0 1 9,0 v1.500 a4.500,1.300 0 0 1 -9,0z" fill="#c6ccd0"/><path d="M367.500,46.4 a4.500,1.300 0 0 1 9,0 v1.500 a4.500,1.300 0 0 1 -9,0z" fill="#c6ccd0"/><path d="M367.500,49.5 a4.500,1.300 0 0 1 9,0 v1.500 a4.500,1.300 0 0 1 -9,0z" fill="#c6ccd0"/>
<path d="M403.300,36.200 h4.400 l1,2.500 v2 h3.200 v-2 l1,-2.500 h4.400 l0.600,3 l1.800,7.500 v2 h-7 v-4.700 h-1.200 v4.700 h-7 v-2 l1.800,-7.500z" fill="#c6ccd0"/><rect x="401.300" y="50" width="8.200" height="1.300" fill="#c6ccd0"/><rect x="411.200" y="50" width="8.200" height="1.300" fill="#c6ccd0"/><rect x="401.300" y="52.100" width="8.200" height="1.300" fill="#c6ccd0"/><rect x="411.200" y="52.100" width="8.200" height="1.300" fill="#c6ccd0"/><rect x="409" y="41.800" width="2.700" height="2.300" fill="#45545e"/>
<circle cx="807.300" cy="100.300" r="2.500" fill="none" stroke="#e8ecee" stroke-width="1.200"/><path d="M809.200,102.200 l2.600,2.600" stroke="#e8ecee" stroke-width="1.500"/>
<path d="M814.800,121.800 l4.600,4.600 M819.400,121.800 l-4.600,4.600" stroke="#fff" stroke-width="1.100"/>
<path d="M97.200,93.700 l-2.700,2.700 2.700,2.700" fill="none" stroke="#fff" stroke-width="1.300"/>
<path d="M112.500,280 l-2.200,2.200 2.200,2.200z" fill="#222"/><path d="M806.500,279.500 l2.200,2.200 -2.200,2.200z" fill="#3a4a55"/>
<path d="M814,138 l2.600,-2.600 2.600,2.600z" fill="#222"/><path d="M815.200,270 l2.300,2.400 2.300,-2.400z" fill="#3a4a55"/>
<g fill="#55636c"><rect x="818" y="458" width="1.500" height="1.500"/><rect x="815" y="458" width="1.500" height="1.500"/><rect x="818" y="455" width="1.500" height="1.500"/></g>
</svg>
<!-- /ICONS -->
</body></html>
